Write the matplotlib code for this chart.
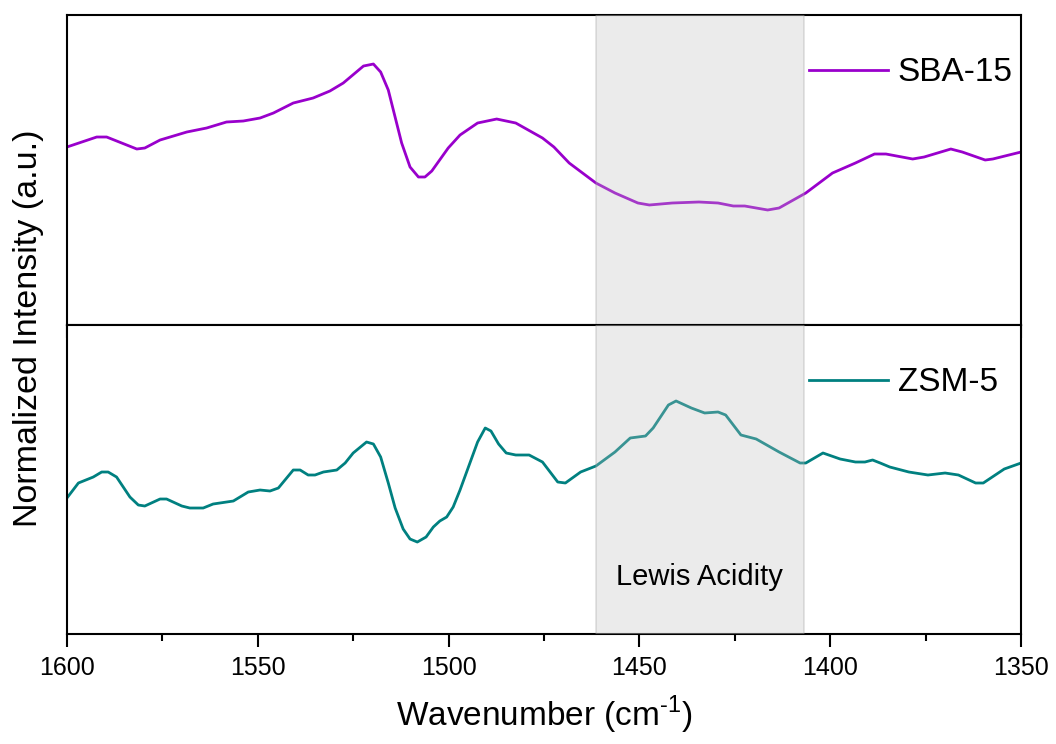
import matplotlib

matplotlib.use('Agg')
import matplotlib.pyplot as plt
from matplotlib.ticker import MultipleLocator

# wavenumbers (cm-1) and normalized intensities
sba_wn = [
    1600, 1592.2, 1589.6, 1581.7, 1579.6, 1575.6, 1568.6, 1563.4, 1558.2, 1553.8,
    1549.4, 1545.9, 1540.7, 1535.5, 1531.1, 1527.6, 1522.3, 1519.7, 1517.8, 1515.8,
    1512.3, 1510.1, 1507.9, 1506.2, 1504.4, 1500.1, 1497.0, 1492.4, 1487.4, 1482.4,
    1475.4, 1472.4, 1468.4, 1461.4, 1456.4, 1450.4, 1447.4, 1441.4, 1434.4, 1429.4,
    1425.4, 1422.4, 1416.4, 1413.4, 1406.4, 1399.4, 1393.4, 1388.4, 1385.4, 1378.4,
    1375.4, 1368.4, 1365.4, 1359.4, 1357.4, 1350,
]
sba_int = [
    1.78, 1.88, 1.88, 1.76, 1.77, 1.85, 1.93, 1.97, 2.03, 2.04,
    2.07, 2.12, 2.22, 2.27, 2.34, 2.42, 2.59, 2.61, 2.53, 2.35,
    1.82, 1.58, 1.48, 1.48, 1.54, 1.77, 1.90, 2.02, 2.06, 2.02,
    1.87, 1.78, 1.62, 1.42, 1.32, 1.22, 1.20, 1.22, 1.23, 1.22,
    1.19, 1.19, 1.15, 1.17, 1.32, 1.52, 1.62, 1.71, 1.71, 1.66,
    1.68, 1.76, 1.73, 1.65, 1.66, 1.73,
]

zsm_wn = [
    1600, 1597, 1593.1, 1590.9, 1589.2, 1587, 1583.5, 1581.3, 1579.6, 1575.6,
    1573.9, 1569.9, 1567.8, 1564.3, 1561.7, 1556.4, 1552.5, 1549.4, 1546.8, 1544.6,
    1540.7, 1538.9, 1536.8, 1535, 1532.8, 1529.3, 1527.1, 1525, 1521.5, 1519.7,
    1517.8, 1515.8, 1514, 1511.9, 1510.1, 1508.2, 1505.9, 1504, 1502.3, 1500.5,
    1498.8, 1497, 1492.4, 1490.4, 1488.9, 1486.9, 1484.9, 1482.4, 1478.9, 1475.4,
    1471.4, 1469.4, 1465.4, 1461.4, 1456.4, 1452.4, 1448.4, 1446.4, 1442.4, 1440.4,
    1436.4, 1432.9, 1429.4, 1427.4, 1423.4, 1419.4, 1413.4, 1407.9, 1406.4, 1401.9,
    1397.4, 1393.4, 1390.9, 1388.9, 1386.9, 1384.4, 1379.4, 1374.4, 1369.9, 1366.4,
    1361.9, 1359.9, 1354.4, 1350,
]
zsm_int = [
    1.36, 1.51, 1.57, 1.62, 1.62, 1.57, 1.37, 1.29, 1.28, 1.35,
    1.35, 1.28, 1.26, 1.26, 1.30, 1.33, 1.42, 1.44, 1.43, 1.46,
    1.64, 1.64, 1.59, 1.59, 1.62, 1.64, 1.71, 1.81, 1.92, 1.90,
    1.77, 1.51, 1.26, 1.05, 0.95, 0.92, 0.97, 1.07, 1.13, 1.17,
    1.27, 1.44, 1.92, 2.06, 2.03, 1.90, 1.81, 1.79, 1.79, 1.72,
    1.52, 1.51, 1.62, 1.68, 1.82, 1.96, 1.98, 2.06, 2.29, 2.33,
    2.26, 2.21, 2.22, 2.19, 1.99, 1.95, 1.82, 1.71, 1.71, 1.81,
    1.75, 1.72, 1.72, 1.74, 1.71, 1.67, 1.62, 1.59, 1.61, 1.59,
    1.51, 1.51, 1.65, 1.71,
]

lewis_band = (1461.4, 1406.9)
x_ticks = [1600, 1550, 1500, 1450, 1400, 1350]

plt.rcParams['font.family'] = ['Liberation Sans', 'DejaVu Sans']
plt.rcParams['mathtext.fontset'] = 'custom'
plt.rcParams['mathtext.rm'] = 'Liberation Sans'


def style_axis(ax, ylim):
    ax.set_xlim(1600, 1350)
    ax.set_ylim(*ylim)
    ax.set_yticks([])
    ax.set_xticks(x_ticks)
    ax.xaxis.set_minor_locator(MultipleLocator(25))
    ax.tick_params(axis='x', which='major', direction='out', length=9, width=1.5,
                   labelsize=18, pad=7)
    ax.tick_params(axis='x', which='minor', direction='out', length=5, width=1.5)
    for spine in ax.spines.values():
        spine.set_linewidth(1.5)
    ax.axvspan(*lewis_band, facecolor='#c0c0c0', alpha=0.3,
               edgecolor='#9a9a9a', linewidth=1.2, zorder=3)


def main():
    fig = plt.figure(figsize=(10.56, 7.44), dpi=100)
    ax_top = fig.add_axes([0.0634, 0.5632, 0.9035, 0.4166])
    ax_bot = fig.add_axes([0.0634, 0.1478, 0.9035, 0.4154], sharex=ax_top)

    ax_top.plot(sba_wn, sba_int, color='#9900cc', lw=2, label='SBA-15')
    ax_bot.plot(zsm_wn, zsm_int, color='#008080', lw=2, label='ZSM-5')

    style_axis(ax_top, (0, 3.1))
    style_axis(ax_bot, (0, 3.09))
    ax_top.tick_params(axis='x', labelbottom=False)

    for ax in (ax_top, ax_bot):
        ax.legend(loc='center left', bbox_to_anchor=(0.778, 0.813), frameon=False,
                  fontsize=24, handlelength=2.35, handletextpad=0.3,
                  borderaxespad=0, borderpad=0)

    ax_bot.text(sum(lewis_band) / 2, 0.16, 'Lewis Acidity', fontsize=21,
                ha='center', va='baseline',
                transform=ax_bot.get_xaxis_transform(), zorder=4)

    ax_bot.set_xlabel('Wavenumber (cm$^{\\text{-1}}$)', fontsize=24, labelpad=10)
    fig.text(0.027, 0.559, 'Normalized Intensity (a.u.)', fontsize=24.5,
             rotation=90, ha='center', va='center')

    fig.savefig('out.png', dpi=100)


if __name__ == '__main__':
    main()
